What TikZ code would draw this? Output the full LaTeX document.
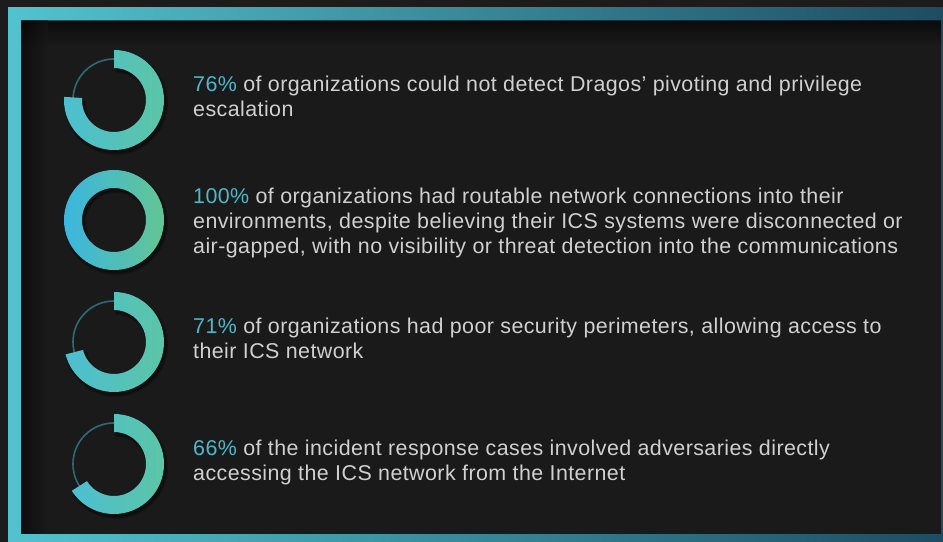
\documentclass[tikz,border=0pt]{standalone}
\usepackage{fontspec}
\setmainfont{Liberation Sans}[LetterSpace=2.0]
\usetikzlibrary{calc}

\definecolor{bgdark}{HTML}{1C1C1C}
\definecolor{paneldark}{HTML}{1A1A1A}
\definecolor{frameA}{HTML}{52C3CE}
\definecolor{frameB}{HTML}{1E4C62}
\definecolor{ringA}{HTML}{4CBFD1}
\definecolor{ringB}{HTML}{5CC5A6}
\definecolor{fullA}{HTML}{3BB6DF}
\definecolor{fullB}{HTML}{63C594}
\definecolor{trackcol}{HTML}{2D6A78}
\definecolor{txtgray}{HTML}{D0D0D0}
\definecolor{pctcol}{HTML}{4CB8C8}

\newcommand{\pct}[1]{\textcolor{pctcol}{#1}}

\begin{document}
\begin{tikzpicture}[x=1bp,y=1bp,
  txt/.style={anchor=base west, align=left, inner sep=0pt, text=txtgray,
    font=\fontsize{21.5}{25.5}\selectfont},
  track/.style={draw=trackcol, line width=1.6bp},
  shadowring/.style={draw=black, line width=#1, opacity=0.16}]

% frame and panel
\fill[bgdark] (0,0) rectangle (943,542);
\shade[left color=frameA, right color=frameB] (8,0) rectangle (943,534);
\fill[paneldark] (21,8) rectangle (941,521);
\shade[top color=black!90!paneldark, bottom color=paneldark, opacity=0.6] (21,521) rectangle (941,496);
\shade[left color=black!90!paneldark, right color=paneldark, opacity=0.5] (21,8) rectangle (48,521);

% one donut: name, centre y, percentage
\def\donut#1#2#3{%
  \coordinate (#1) at (114,#2);
  \pgfmathsetmacro\endang{90-3.6*#3}
  \foreach \w in {22,20,18}
    \draw[shadowring=\w bp] ($(#1)+(2,-3)$) ++(90:41) arc[start angle=90, end angle=\endang, radius=41];
  \draw[track] (#1) circle (41);
  \shade[left color=ringA, right color=ringB]
    (#1) ++(90:50) arc[start angle=90, end angle=\endang, radius=50]
    -- ($(#1)+(\endang:32)$) arc[start angle=\endang, end angle=90, radius=32] -- cycle;
}

\donut{ringone}{442}{76}
\donut{ringthree}{200}{71}
\donut{ringfour}{78}{66}

% the full ring
\coordinate (ringtwo) at (114,322);
\foreach \w in {22,20,18}
  \draw[shadowring=\w bp] ($(ringtwo)+(2,-3)$) circle (41);
\shade[left color=fullA, right color=fullB, even odd rule]
  (ringtwo) circle (50) (ringtwo) circle (32);

% texts (anchored at the baseline of their last line)
\node[txt] (textone) at (193,425)
  {\pct{76\%} of organizations could not detect Dragos’ pivoting and privilege\\escalation};
\node[txt] (texttwo) at (193,288)
  {\pct{100\%} of organizations had routable network connections into their\\environments, despite believing their ICS systems were disconnected or\\air-gapped, with no visibility or threat detection into the communications};
\node[txt] (textthree) at (193,183)
  {\pct{71\%} of organizations had poor security perimeters, allowing access to\\their ICS network};
\node[txt] (textfour) at (193,61)
  {\pct{66\%} of the incident response cases involved adversaries directly\\accessing the ICS network from the Internet};

\end{tikzpicture}
\end{document}
